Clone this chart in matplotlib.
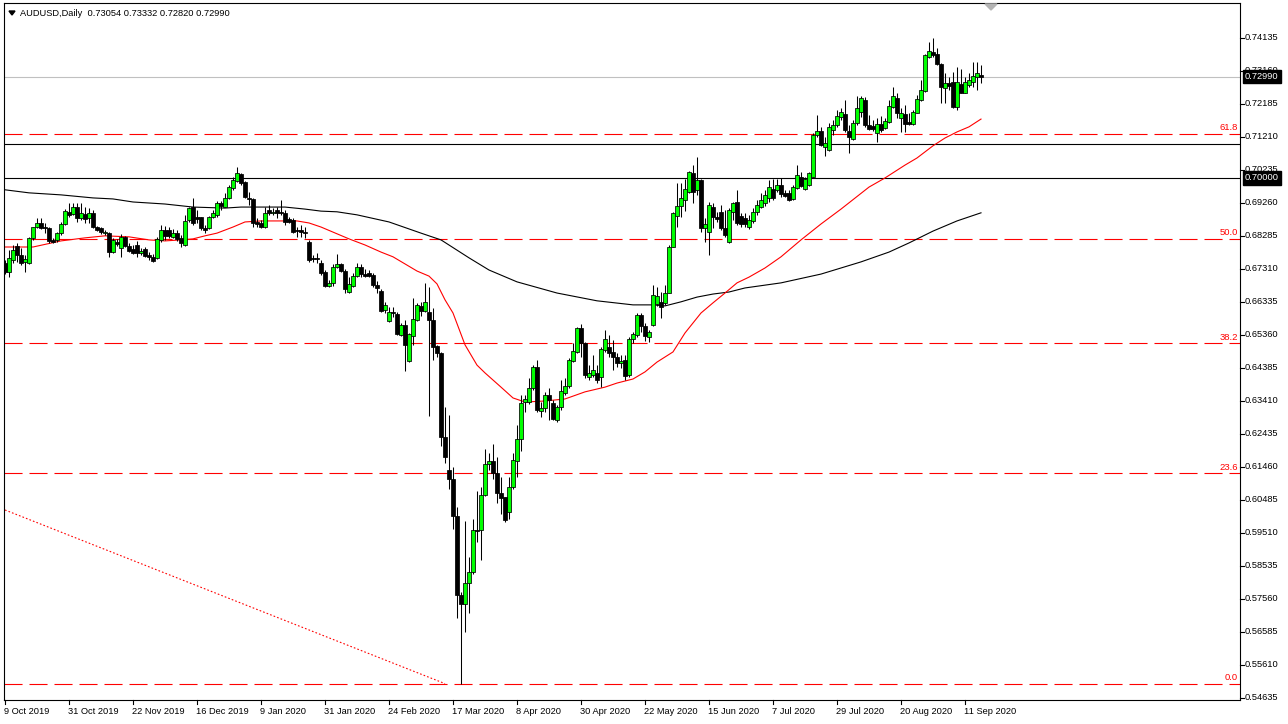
import matplotlib
matplotlib.use("Agg")
import matplotlib.pyplot as plt
from matplotlib.transforms import blended_transform_factory
from matplotlib.patches import Polygon
from matplotlib.lines import Line2D
import numpy as np

plt.rcParams['font.family'] = ['Liberation Sans', 'DejaVu Sans']
plt.rcParams['lines.scale_dashes'] = False

# ---------------- data ----------------
symbol = "AUDUSD,Daily"
last_ohlc = ["0.73054", "0.73332", "0.72820", "0.72990"]

opens = [
 .6749,.6722,.6758,.6799,.6772,.6752,.6749,.6823,.6855,.6867,
 .6855,.6852,.6817,.6817,.6837,.6864,.6900,.6894,.6914,.6882,
 .6894,.6882,.6897,.6855,.6852,.6837,.6837,.6781,.6811,.6793,
 .6826,.6799,.6790,.6802,.6778,.6790,.6772,.6767,.6764,.6817,
 .6846,.6846,.6826,.6837,.6823,.6802,.6876,.6914,.6885,.6885,
 .6852,.6852,.6885,.6891,.6926,.6914,.6941,.6970,.6991,.7012,
 .6988,.6941,.6938,.6870,.6867,.6855,.6905,.6897,.6905,.6900,
 .6897,.6879,.6876,.6846,.6846,.6840,.6811,.6764,.6764,.6749,
 .6722,.6681,.6690,.6737,.6746,.6725,.6663,.6681,.6710,.6737,
 .6716,.6719,.6713,.6684,.6666,.6610,.6577,.6604,.6598,.6536,
 .6566,.6459,.6533,.6580,.6622,.6607,.6604,.6580,.6504,.6483,
 .6235,.6137,.6111,.6001,.5768,.5742,.5804,.5836,.5960,.5960,
 .6063,.6155,.6164,.6128,.6069,.6057,.6012,.6087,.6164,.6229,
 .6338,.6338,.6380,.6442,.6312,.6320,.6359,.6335,.6285,.6323,
 .6365,.6385,.6459,.6486,.6557,.6512,.6412,.6418,.6424,.6412,
 .6492,.6501,.6486,.6471,.6453,.6462,.6418,.6524,.6536,.6595,
 .6563,.6530,.6566,.6628,.6634,.6631,.6660,.6796,.6888,.6917,
 .6935,.6959,.7015,.6965,.6994,.6852,.6840,.6914,.6885,.6900,
 .6852,.6811,.6900,.6929,.6888,.6882,.6855,.6873,.6900,.6914,
 .6926,.6941,.6968,.6965,.6979,.6956,.6956,.6938,.6970,.7003,
 .6968,.6979,.7003,.7127,.7139,.7092,.7083,.7142,.7157,.7180,
 .7189,.7139,.7115,.7162,.7195,.7230,.7157,.7154,.7133,.7160,
 .7148,.7165,.7210,.7236,.7177,.7189,.7165,.7160,.7192,.7230,
 .7257,.7358,.7372,.7366,.7337,.7266,.7281,.7284,.7210,.7278,
 .7251,.7275,.7284,.7298,.73054]

highs = [
 .6758,.6787,.6802,.6808,.6793,.6772,.6826,.6855,.6882,.6882,
 .6867,.6855,.6823,.6840,.6870,.6908,.6926,.6926,.6926,.6926,
 .6914,.6911,.6905,.6858,.6855,.6846,.6840,.6823,.6820,.6835,
 .6829,.6808,.6802,.6814,.6793,.6796,.6781,.6775,.6826,.6861,
 .6858,.6855,.6849,.6846,.6832,.6891,.6914,.6941,.6905,.6885,
 .6861,.6888,.6905,.6932,.6932,.6956,.6979,.7003,.7032,.7015,
 .6991,.6959,.6941,.6882,.6876,.6914,.6920,.6911,.6914,.6935,
 .6905,.6885,.6882,.6855,.6861,.6855,.6817,.6772,.6778,.6758,
 .6728,.6699,.6746,.6775,.6749,.6731,.6707,.6719,.6749,.6746,
 .6731,.6728,.6719,.6696,.6672,.6634,.6619,.6619,.6604,.6572,
 .6580,.6542,.6645,.6631,.6634,.6690,.6678,.6616,.6507,.6486,
 .6323,.6300,.6146,.6027,.5777,.5986,.5880,.5992,.6075,.6087,
 .6199,.6188,.6214,.6176,.6117,.6057,.6117,.6188,.6270,.6359,
 .6359,.6409,.6447,.6462,.6338,.6368,.6380,.6344,.6329,.6403,
 .6409,.6468,.6512,.6560,.6569,.6515,.6447,.6477,.6447,.6501,
 .6551,.6536,.6521,.6483,.6477,.6477,.6530,.6545,.6601,.6601,
 .6572,.6551,.6684,.6678,.6663,.6684,.6802,.6900,.6985,.6985,
 .6997,.7021,.7038,.7062,.6997,.6882,.6929,.6926,.6900,.6920,
 .6905,.6911,.6929,.6965,.6897,.6897,.6891,.6911,.6935,.6956,
 .6965,.6994,.6997,.6997,.7000,.6965,.6965,.6979,.7038,.7018,
 .7003,.7018,.7133,.7186,.7151,.7121,.7162,.7171,.7201,.7207,
 .7230,.7157,.7171,.7242,.7242,.7239,.7186,.7171,.7177,.7183,
 .7177,.7230,.7269,.7251,.7207,.7216,.7192,.7201,.7245,.7290,
 .7366,.7402,.7414,.7384,.7340,.7310,.7298,.7313,.7328,.7322,
 .7298,.7310,.7343,.7343,.73332]

lows = [
 .6716,.6707,.6749,.6752,.6743,.6722,.6746,.6817,.6852,.6849,
 .6837,.6808,.6808,.6811,.6832,.6861,.6885,.6891,.6870,.6876,
 .6867,.6867,.6852,.6843,.6835,.6832,.6767,.6778,.6799,.6767,
 .6796,.6781,.6775,.6767,.6772,.6767,.6758,.6752,.6761,.6811,
 .6817,.6823,.6823,.6814,.6796,.6799,.6870,.6861,.6867,.6846,
 .6837,.6849,.6882,.6885,.6905,.6914,.6938,.6965,.6988,.6979,
 .6941,.6920,.6855,.6855,.6852,.6852,.6891,.6891,.6882,.6891,
 .6861,.6867,.6837,.6826,.6826,.6823,.6752,.6752,.6749,.6713,
 .6678,.6678,.6681,.6734,.6722,.6660,.6660,.6678,.6707,.6707,
 .6707,.6707,.6678,.6660,.6604,.6601,.6575,.6589,.6536,.6533,
 .6430,.6456,.6507,.6577,.6592,.6604,.6297,.6462,.6471,.6208,
 .6158,.6081,.5963,.5700,.5506,.5659,.5715,.5830,.5924,.5872,
 .6060,.6137,.6111,.6039,.6007,.5983,.5992,.6081,.6117,.6193,
 .6309,.6332,.6374,.6309,.6294,.6309,.6285,.6285,.6279,.6315,
 .6359,.6380,.6456,.6483,.6471,.6409,.6403,.6412,.6394,.6382,
 .6486,.6471,.6433,.6442,.6439,.6403,.6412,.6512,.6530,.6545,
 .6518,.6515,.6563,.6622,.6586,.6625,.6660,.6796,.6855,.6885,
 .6902,.6956,.6926,.6950,.6840,.6811,.6772,.6852,.6870,.6846,
 .6826,.6808,.6876,.6861,.6855,.6855,.6849,.6867,.6891,.6911,
 .6917,.6929,.6935,.6959,.6944,.6944,.6932,.6935,.6968,.6973,
 .6965,.6976,.7003,.7121,.7095,.7065,.7080,.7127,.7151,.7171,
 .7136,.7074,.7112,.7157,.7180,.7151,.7142,.7139,.7106,.7136,
 .7145,.7162,.7207,.7177,.7136,.7136,.7157,.7157,.7192,.7228,
 .7254,.7355,.7358,.7334,.7222,.7222,.7260,.7207,.7201,.7251,
 .7251,.7269,.7269,.7260,.72820]

closes = [
 .6722,.6764,.6787,.6772,.6749,.6761,.6823,.6855,.6867,.6852,
 .6852,.6814,.6811,.6837,.6864,.6902,.6891,.6914,.6882,.6897,
 .6879,.6897,.6855,.6846,.6840,.6840,.6781,.6817,.6805,.6826,
 .6799,.6784,.6778,.6778,.6784,.6770,.6767,.6755,.6820,.6846,
 .6829,.6829,.6837,.6820,.6808,.6873,.6911,.6867,.6879,.6852,
 .6846,.6885,.6897,.6926,.6917,.6941,.6973,.6994,.7015,.6985,
 .6944,.6938,.6867,.6864,.6855,.6897,.6897,.6900,.6897,.6897,
 .6870,.6870,.6840,.6843,.6840,.6837,.6758,.6761,.6761,.6719,
 .6681,.6690,.6737,.6746,.6725,.6672,.6687,.6710,.6737,.6716,
 .6710,.6710,.6684,.6675,.6607,.6625,.6604,.6601,.6539,.6566,
 .6507,.6539,.6583,.6625,.6607,.6634,.6580,.6501,.6483,.6235,
 .6176,.6111,.6001,.5768,.5742,.5804,.5836,.5960,.5957,.6063,
 .6155,.6164,.6128,.6069,.6054,.5989,.6087,.6167,.6229,.6335,
 .6347,.6380,.6442,.6315,.6320,.6359,.6344,.6288,.6323,.6371,
 .6385,.6462,.6489,.6557,.6512,.6418,.6424,.6433,.6403,.6495,
 .6524,.6483,.6471,.6453,.6459,.6415,.6524,.6539,.6595,.6563,
 .6533,.6545,.6654,.6651,.6619,.6660,.6796,.6897,.6917,.6941,
 .6968,.7018,.6959,.6994,.6852,.6864,.6920,.6885,.6879,.6852,
 .6832,.6905,.6926,.6867,.6864,.6864,.6876,.6900,.6920,.6935,
 .6950,.6973,.6941,.6979,.6953,.6947,.6935,.6973,.7009,.6976,
 .6997,.7015,.7127,.7139,.7098,.7103,.7151,.7157,.7183,.7195,
 .7142,.7121,.7162,.7207,.7236,.7157,.7145,.7145,.7160,.7142,
 .7168,.7213,.7242,.7192,.7192,.7160,.7160,.7195,.7233,.7260,
 .7363,.7375,.7363,.7337,.7269,.7281,.7272,.7210,.7284,.7251,
 .7284,.7290,.7301,.7310,.72990]

# 50-period moving average (red), read at selected bars
ma50_idx = [0, 7, 14, 20, 25, 31, 36, 40, 44, 47,
            50, 53, 57, 60, 64, 73, 76, 79, 82, 86,
            90, 94, 97, 100, 103, 106, 108, 110, 112, 115,
            118, 120, 124, 127, 130, 135, 140, 145, 150, 153,
            157, 160, 163, 167, 170, 174, 177, 180, 183, 186,
            190, 194, 199, 204, 209, 216, 220, 225, 228, 232,
            235, 238, 241, 244]
ma50_val = [.6796, .6796, .6814, .6823, .6829, .6826, .6817, .6814, .6817, .6820,
            .6829, .6837, .6855, .6870, .6873, .6873, .6867, .6855, .6840, .6820,
            .6802, .6781, .6767, .6746, .6725, .6710, .6687, .6640, .6601, .6507,
            .6447, .6424, .6382, .6350, .6338, .6341, .6347, .6368, .6382, .6394,
            .6406, .6427, .6456, .6486, .6542, .6601, .6631, .6660, .6690, .6707,
            .6734, .6767, .6817, .6864, .6908, .6973, .7000, .7038, .7059, .7095,
            .7118, .7136, .7151, .7174]

# 200-period moving average (black), read at selected bars
ma200_idx = [0, 6, 14, 22, 27, 32, 40, 47, 55, 59,
             70, 75, 79, 83, 88, 96, 104, 109, 116, 121,
             128, 138, 148, 157, 162, 165, 169, 173, 177, 181,
             185, 194, 204, 214, 221, 226, 232, 238, 244]
ma200_val = [.6965, .6956, .6950, .6941, .6938, .6929, .6923, .6914, .6911, .6914,
             .6914, .6908, .6902, .6900, .6891, .6870, .6837, .6817, .6764, .6728,
             .6693, .6660, .6637, .6625, .6625, .6622, .6634, .6648, .6657, .6663,
             .6675, .6690, .6716, .6752, .6781, .6808, .6843, .6873, .6897]

fib_names = ["0.0", "23.6", "38.2", "50.0", "61.8"]
fib_prices = [0.5506, 0.6127, 0.6511, 0.6821, 0.7131]
fib_trend_idx = [0, 110]
fib_trend_val = [0.6019, 0.5506]

black_levels = [0.7000, 0.7100]
bid_price = 0.72990

price_labels = ["0.74135", "0.73160", "0.72185", "0.71210", "0.70235", "0.69260",
                "0.68285", "0.67310", "0.66335", "0.65360", "0.64385", "0.63410",
                "0.62435", "0.61460", "0.60485", "0.59510", "0.58535", "0.57560",
                "0.56585", "0.55610", "0.54635"]
boxed_labels = ["0.72990", "0.70000"]

date_labels = ["9 Oct 2019", "31 Oct 2019", "22 Nov 2019", "16 Dec 2019", "9 Jan 2020",
               "31 Jan 2020", "24 Feb 2020", "17 Mar 2020", "8 Apr 2020", "30 Apr 2020",
               "22 May 2020", "15 Jun 2020", "7 Jul 2020", "29 Jul 2020", "20 Aug 2020",
               "11 Sep 2020"]
date_label_step = 16

# ---------------- layout ----------------
W, H = 1288, 724
fig = plt.figure(figsize=(W / 100, H / 100), dpi=100)
fig.patch.set_facecolor('white')

L_PX, R_PX, T_PX, B_PX = 3.5, 1240, 3, 700
ax = fig.add_axes([L_PX / W, 1 - B_PX / H, (R_PX - L_PX) / W, (B_PX - T_PX) / H])
ax.set_facecolor('white')

def fx(px):
    return px / W

def fy(py):
    return 1 - py / H

# price scale: 0.00975 per 33 px, 0.74135 at y=38
step_per_px = 0.00975 / 33.0
ref_price, ref_px = 0.74135, 38
ax.set_ylim(ref_price - (B_PX - ref_px) * step_per_px, ref_price + (ref_px - T_PX) * step_per_px)
# bar i at pixel 5 + 4 i
ax.set_xlim((L_PX - 5) / 4.0, (R_PX - 5) / 4.0)
ax.set_xticks([])
ax.set_yticks([])
for sp in ax.spines.values():
    sp.set_color('black')
    sp.set_linewidth(0.8)

O = np.array(opens); Hh = np.array(highs); Lw = np.array(lows); C = np.array(closes)
n = len(O)
x = np.arange(n)

# horizontal levels
ax.axhline(bid_price, color='#c0c0c0', lw=0.8, zorder=1)
for lv in black_levels:
    ax.axhline(lv, color='black', lw=0.8, zorder=1)
for nm, pr in zip(fib_names, fib_prices):
    ax.axhline(pr, color='#ff0000', lw=0.8, dashes=(13, 5), zorder=1)

# fib connecting trend line (dotted)
ax.plot(fib_trend_idx, fib_trend_val, color='#ff0000', lw=0.8, dashes=(1.2, 1.5), zorder=1)

# moving averages
ax.plot(ma200_idx, ma200_val, color='black', lw=0.8, zorder=2)
ax.plot(ma50_idx, ma50_val, color='#ff0000', lw=0.8, zorder=2)

# candles
ax.vlines(x, Lw, Hh, color='black', lw=0.75, zorder=3)
up = C >= O
bot = np.minimum(O, C)
hgt = np.maximum(np.abs(C - O), 1e-6)
ax.bar(x[up], hgt[up], bottom=bot[up], width=0.78, color='#00ff00',
       edgecolor='black', linewidth=0.55, zorder=4)
ax.bar(x[~up], hgt[~up], bottom=bot[~up], width=0.78, color='black',
       edgecolor='black', linewidth=0.55, zorder=4)

# fib level texts
tr_fy = blended_transform_factory(fig.transFigure, ax.transData)
for nm, pr in zip(fib_names, fib_prices):
    fig.text(fx(1238), pr + 1.5 * step_per_px, nm, color='#ff0000', fontsize=6.8,
             ha='right', va='bottom', transform=tr_fy)

# right price axis
for lab in price_labels:
    v = float(lab)
    fig.add_artist(Line2D([fx(R_PX), fx(R_PX + 3.5)], [v, v], color='black', lw=0.8,
                          transform=tr_fy))
    fig.text(fx(1245), v, lab, color='black', fontsize=6.7, ha='left', va='center',
             transform=tr_fy)
for lab in boxed_labels:
    v = float(lab)
    fig.text(fx(1245), v, lab, color='white', fontsize=6.7, ha='left', va='center',
             transform=tr_fy,
             bbox=dict(boxstyle='square,pad=0.22', fc='black', ec='black'))

# bottom date axis
tr_xd = blended_transform_factory(ax.transData, fig.transFigure)
for k, lab in enumerate(date_labels):
    i = k * date_label_step
    fig.add_artist(Line2D([i, i], [fy(B_PX), fy(B_PX + 4)], color='black', lw=0.8,
                          transform=tr_xd))
    fig.text(i - 0.25, fy(711), lab, color='black', fontsize=6.7, ha='left', va='center',
             transform=tr_xd)

# header
fig.add_artist(Polygon([[fx(9), fy(11)], [fx(15), fy(11)], [fx(12), fy(15)]],
                       closed=True, color='black', transform=fig.transFigure))
fig.text(fx(20), fy(13), symbol + "  " + " ".join(last_ohlc), color='black',
         fontsize=6.7, ha='left', va='center')

# chart shift marker
fig.add_artist(Polygon([[fx(985), fy(4)], [fx(997), fy(4)], [fx(991), fy(10)]],
                       closed=True, color='#b4b4b4', transform=fig.transFigure))

fig.savefig("out.png", dpi=100, facecolor='white')
